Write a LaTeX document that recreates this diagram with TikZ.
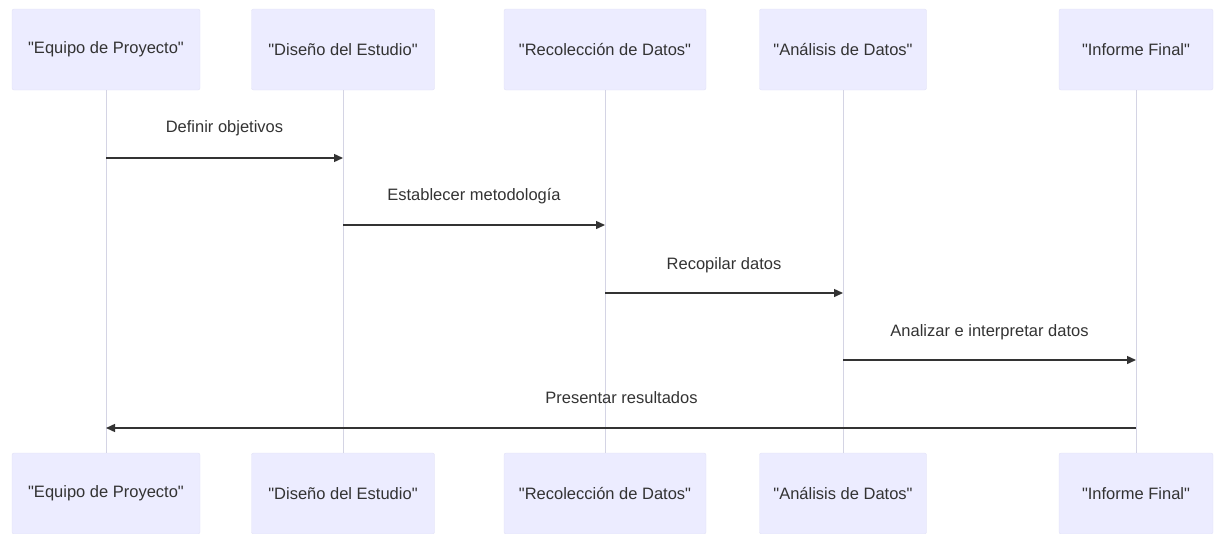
\documentclass[tikz,border=0pt]{standalone}
\usepackage{fontspec}
\setmainfont{Liberation Sans}[Ligatures=TeXOff]
\usetikzlibrary{arrows.meta}
\definecolor{actfill}{HTML}{ECECFF}
\definecolor{actline}{HTML}{E2E2F6}
\definecolor{lifeline}{HTML}{D4D4E4}
\definecolor{txt}{HTML}{333333}
\newcommand{\q}{\symbol{34}}
\begin{document}
\begin{tikzpicture}[x=1pt,y=-1pt,
  actor/.style={draw=actline,fill=actfill,rounded corners=2pt,minimum height=81pt,text=txt,font=\fontsize{16.5}{19}\selectfont,inner sep=0pt},
  life/.style={draw=lifeline,line width=0.8pt},
  msg/.style={draw=txt,line width=1.4pt,-{Triangle[length=9pt,width=8pt]}},
  lbl/.style={text=txt,font=\fontsize{16.5}{19}\selectfont}]
\useasboundingbox (0,0) rectangle (1215,533);
% top actors
\node[actor,minimum width=188pt] (a1) at (106,49.5) {\q Equipo de Proyecto\q};
\node[actor,minimum width=183pt] (a2) at (343,49.5) {\q Diseño del Estudio\q};
\node[actor,minimum width=202pt] (a3) at (605,49.5) {\q Recolección de Datos\q};
\node[actor,minimum width=167pt] (a4) at (843,49.5) {\q Análisis de Datos\q};
\node[actor,minimum width=154pt] (a5) at (1136,49.5) {\q Informe Final\q};
% bottom actors
\node[actor,minimum width=188pt] (b1) at (106,493.5) {\q Equipo de Proyecto\q};
\node[actor,minimum width=183pt] (b2) at (343,493.5) {\q Diseño del Estudio\q};
\node[actor,minimum width=202pt] (b3) at (605,493.5) {\q Recolección de Datos\q};
\node[actor,minimum width=167pt] (b4) at (843,493.5) {\q Análisis de Datos\q};
\node[actor,minimum width=154pt] (b5) at (1136,493.5) {\q Informe Final\q};
% lifelines
\foreach \i in {1,...,5} {\draw[life] (a\i.south) -- (b\i.north);}
% message anchors
\coordinate (m1s) at (a1.south |- 0,158); \coordinate (m1e) at (a2.south |- 0,158);
\coordinate (m2s) at (a2.south |- 0,225); \coordinate (m2e) at (a3.south |- 0,225);
\coordinate (m3s) at (a3.south |- 0,293); \coordinate (m3e) at (a4.south |- 0,293);
\coordinate (m4s) at (a4.south |- 0,360); \coordinate (m4e) at (a5.south |- 0,360);
\coordinate (m5s) at (a5.south |- 0,428); \coordinate (m5e) at (a1.south |- 0,428);
\draw[msg] (m1s) -- (m1e);
\draw[msg] (m2s) -- (m2e);
\draw[msg] (m3s) -- (m3e);
\draw[msg] (m4s) -- (m4e);
\draw[msg] (m5s) -- (m5e);
\node[lbl] (l1) at (224.5,128) {Definir objetivos};
\node[lbl] (l2) at (474,196) {Establecer metodología};
\node[lbl] (l3) at (724,265) {Recopilar datos};
\node[lbl] (l4) at (989.5,332) {Analizar e interpretar datos};
\node[lbl] (l5) at (621.5,398) {Presentar resultados};
\end{tikzpicture}
\end{document}
